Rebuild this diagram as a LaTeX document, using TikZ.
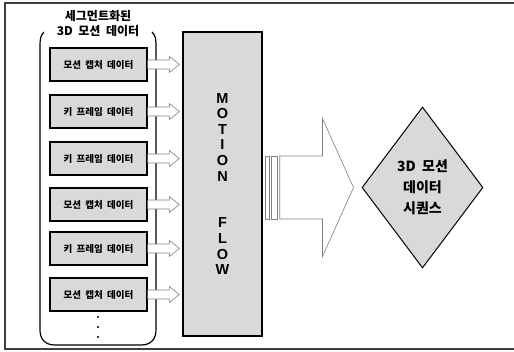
\documentclass[tikz,border=0pt]{standalone}
\usepackage{fontspec}
\setmainfont{Liberation Sans}
\newfontfamily\kr{Noto Sans CJK KR}
\newfontfamily\krwide{Noto Sans CJK KR}[WordSpace=2]
\usetikzlibrary{calc,shapes.geometric}
\definecolor{boxgray}{HTML}{D9D9D9}
\definecolor{arrowline}{HTML}{7F7F7F}
\tikzset{
  databox/.style={draw=black, line width=1.3pt, fill=boxgray, minimum width=97pt, minimum height=33pt, inner sep=0pt, font=\krwide\bfseries\fontsize{9.5}{10}\selectfont},
  flowbox/.style={draw=black, line width=1.4pt, fill=boxgray, minimum width=79pt, minimum height=304pt, inner sep=0pt},
  harrow/.style={draw=arrowline, line width=0.6pt, fill=white, line join=miter},
  frameline/.style={draw=black!75, line width=1.4pt},
  container/.style={draw=black, line width=1.2pt},
}
\begin{document}
\begin{tikzpicture}[x=1pt,y=-1pt]
\useasboundingbox (0,0) rectangle (514,351);
% outer frame (right side cut off)
\draw[frameline] (520,3) -- (5,3) -- (5,349) -- (520,349);
% container
\draw[container] (44,32) .. controls (41,35) and (40,38) .. (40,45) -- (40,330)
  .. controls (40,339) and (45,345) .. (55,345) -- (141,345)
  .. controls (151,345) and (156,339) .. (156,330) -- (156,45)
  .. controls (156,38) and (155,35) .. (152,32);
\node[font=\krwide\bfseries\fontsize{12}{15}\selectfont, align=center, inner sep=0pt] (title) at (98,23.5) {세그먼트화된\\3D 모션 데이터};
% data boxes
\node[databox] (b1) at (98.5,64.5) {모션 캡처 데이터};
\node[databox] (b2) at (98.5,111.5) {키 프레임 데이터};
\node[databox] (b3) at (98.5,158.5) {키 프레임 데이터};
\node[databox] (b4) at (98.5,204.5) {모션 캡처 데이터};
\node[databox] (b5) at (98.5,248.5) {키 프레임 데이터};
\node[databox] (b6) at (98.5,294.5) {모션 캡처 데이터};
% dots
\fill (98,317) circle (1.1);
\fill (98,327) circle (1.1);
\fill (98,337) circle (1.1);
% motion flow box
\node[flowbox] (mf) at (222.5,184) {};
\node[font=\bfseries\fontsize{14.5}{15.6}\selectfont, align=center, inner sep=0pt] (mft) at (mf.center) {M\\O\\T\\I\\O\\N\\~\\~\\F\\L\\O\\W};
% small hollow arrows
\foreach \b in {b1,b2,b3,b4,b5,b6}{
  \draw[harrow] ($(\b.east)+(0,-4.5)$) -- ($(mf.west|-\b.east)+(-13,-4.5)$) -- ($(mf.west|-\b.east)+(-13,-8)$)
    -- ($(mf.west|-\b.east)+(-3,0)$) -- ($(mf.west|-\b.east)+(-13,8)$) -- ($(mf.west|-\b.east)+(-13,4.5)$) -- ($(\b.east)+(0,4.5)$);
}
% diamond
\node[draw=black, line width=1pt, fill=boxgray, shape=diamond, minimum width=121pt, minimum height=161pt, inner sep=0pt,
  font=\krwide\bfseries\fontsize{14}{21}\selectfont, align=center] (dia) at (422.5,187.5) {3D 모션\\데이터\\시퀀스};
% striped big arrow
\coordinate (sa) at (mf.east|-dia.west);
\draw[harrow] ($(sa)+(3,-31.5)$) rectangle ($(sa)+(6.3,31.5)$);
\draw[harrow] ($(sa)+(9,-31.5)$) rectangle ($(sa)+(15,31.5)$);
\draw[harrow] ($(sa)+(17,-31.5)$) -- ($(dia.west)+(-39,-31.5)$) -- ($(dia.west)+(-39,-69)$) -- ($(dia.west)+(-8,0)$)
  -- ($(dia.west)+(-39,69)$) -- ($(dia.west)+(-39,31.5)$) -- ($(sa)+(17,31.5)$) -- cycle;
\end{tikzpicture}
\end{document}
